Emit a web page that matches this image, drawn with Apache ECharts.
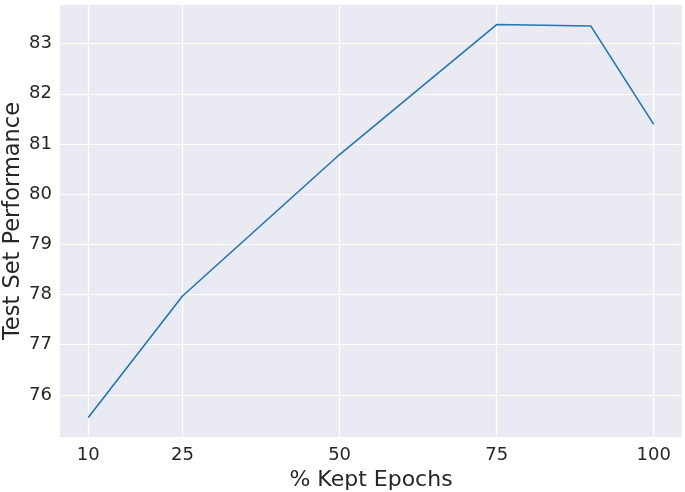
<!DOCTYPE html>
<html>
<head>
<meta charset="utf-8">
<script src="https://cdn.jsdelivr.net/npm/echarts@6/dist/echarts.min.js"></script>
<style>
  html, body { margin: 0; padding: 0; background: #fff; }
  #chart { width: 685px; height: 492px; }
</style>
</head>
<body>
<div id="chart"></div>
<script>
// 데이터
const keptEpochs = [10, 25, 50, 75, 90, 100];
const testPerf = [75.55, 77.97, 80.79, 83.38, 83.35, 81.39];
const xTicks = [10, 25, 50, 75, 100];
const yTicks = [76, 77, 78, 79, 80, 81, 82, 83];
const xTitle = '% Kept Epochs';
const yTitle = 'Test Set Performance';

const textColor = '#262626';
const font = 'DejaVu Sans';

const chart = echarts.init(document.getElementById('chart'));
chart.setOption({
  animation: false,
  backgroundColor: '#ffffff',
  grid: {
    left: 60, top: 5, right: 3, bottom: 55,
    containLabel: false, outerBoundsMode: 'none',
    show: true, backgroundColor: '#EAEAF2', borderWidth: 0
  },
  // y축 제목 (축 이름은 라벨과 겹침 처리 때문에 잘려서 graphic으로 표시)
  graphic: [{
    type: 'text',
    x: 13,
    y: 221,
    rotation: Math.PI / 2,
    style: {
      text: yTitle,
      fill: textColor,
      font: '22.5px "DejaVu Sans"',
      align: 'center',
      verticalAlign: 'middle'
    }
  }],
  xAxis: {
    type: 'value',
    min: 5.5,
    max: 104.5,
    name: xTitle,
    nameLocation: 'middle',
    nameGap: 30,
    nameTextStyle: { fontFamily: font, fontSize: 22, color: textColor },
    axisLine: { show: false },
    axisTick: { show: false, customValues: xTicks },
    axisLabel: { customValues: xTicks, fontFamily: font, fontSize: 18, color: textColor, margin: 9 },
    splitLine: { show: true, lineStyle: { color: '#ffffff', width: 1.2 } }
  },
  yAxis: {
    type: 'value',
    min: 75.16,
    max: 83.77,
    axisLine: { show: false },
    axisTick: { show: false, customValues: yTicks },
    axisLabel: { customValues: yTicks, fontFamily: font, fontSize: 18, color: textColor, margin: 8 },
    splitLine: { show: true, lineStyle: { color: '#ffffff', width: 1.2 } }
  },
  series: [{
    type: 'line',
    data: keptEpochs.map((x, i) => [x, testPerf[i]]),
    symbol: 'none',
    lineStyle: { color: '#1f77b4', width: 1.6 },
    itemStyle: { color: '#1f77b4' }
  }]
});
</script>
</body>
</html>
